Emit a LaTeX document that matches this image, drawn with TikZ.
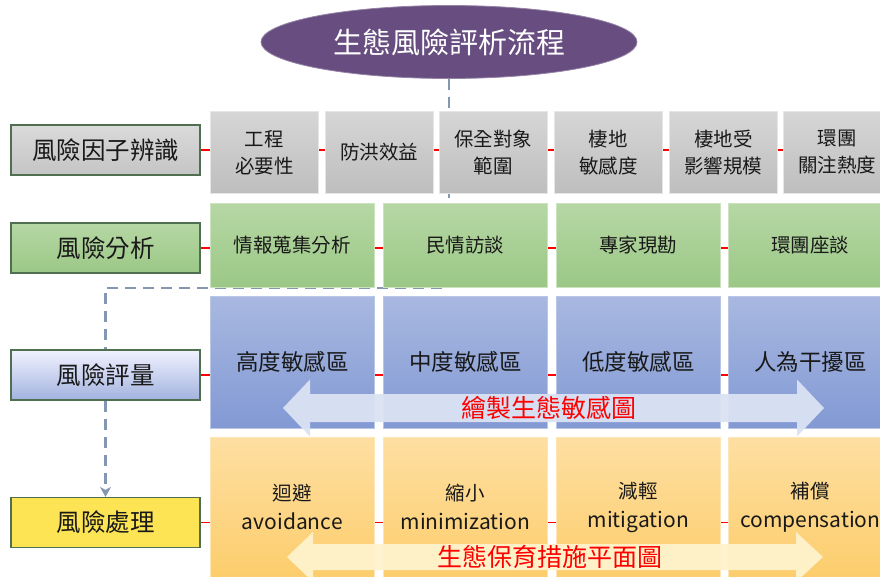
\documentclass[tikz,border=0pt]{standalone}
\usepackage{fontspec}
\setmainfont{Noto Sans CJK TC}
\usetikzlibrary{shapes.geometric,arrows.meta,backgrounds}

% colours of the rows
\definecolor{titlepurple}{RGB}{104,78,128}
\definecolor{labelborder}{RGB}{80,110,80}
\definecolor{dashblue}{RGB}{132,151,176}
\definecolor{textgray}{RGB}{25,25,25}
\definecolor{grayTop}{RGB}{214,214,214}
\definecolor{grayBot}{RGB}{190,190,190}
\definecolor{greenTop}{RGB}{182,215,164}
\definecolor{greenBot}{RGB}{155,200,134}
\definecolor{blueTop}{RGB}{168,184,224}
\definecolor{blueBot}{RGB}{130,153,212}
\definecolor{yellowTop}{RGB}{254,223,162}
\definecolor{yellowBot}{RGB}{252,205,108}
\definecolor{mapfill}{RGB}{218,227,243}
\definecolor{planfill}{RGB}{255,242,204}

\newcommand{\latinline}[1]{{\fontsize{21}{29}\selectfont #1}}

\tikzset{
  rowlabel/.style={draw=labelborder, line width=1.2pt, minimum width=189pt,
    minimum height=50pt, inner sep=0pt, text=textgray,
    font=\fontsize{24.5}{26}\selectfont},
  cell/.style={anchor=north west, inner sep=0pt, align=center, text=textgray,
    line width=0.6pt},
  redline/.style={draw=red, line width=1.6pt},
  flowdash/.style={draw=dashblue, line width=2.6pt, dash pattern=on 11pt off 7pt},
  arrownote/.style={text=red, font=\fontsize{25}{27}\selectfont}
}

\begin{document}
\begin{tikzpicture}[x=1pt,y=-1pt]
\useasboundingbox (0,0) rectangle (880,577);

% Drawing title ellipse
\node[ellipse, fill=titlepurple, draw=titlepurple!70!white, line width=0.8pt,
  minimum width=376pt, minimum height=73pt, inner sep=0pt, text=white,
  font=\fontsize{29}{30}\selectfont] (title) at (449,42) {生態風險評析流程};

% Drawing row labels
\node[rowlabel, top color=grayTop!90!white, bottom color=grayBot!90!white] (identify) at (105.5,150) {風險因子辨識};
\node[rowlabel, top color=greenTop, bottom color=greenBot] (analysis) at (105.5,248) {風險分析};
\node[rowlabel, top color=blue!5!white, bottom color=blueBot!75!white] (evaluate) at (105.5,375) {風險評量};
\node[rowlabel, fill=yellowBot!60!yellow!90!white] (treat) at (105.5,522.5) {風險處理};

% Row 1: factor identification
{\fontsize{19.5}{27}\selectfont
\node[cell, top color=grayTop, bottom color=grayBot, draw=grayTop!60!white,
  minimum width=108pt, minimum height=82pt] (f1) at (210,111) {工程\\必要性};
\node[cell, top color=grayTop, bottom color=grayBot, draw=grayTop!60!white,
  minimum width=108pt, minimum height=82pt] (f2) at (325,111) {防洪效益};
\node[cell, top color=grayTop, bottom color=grayBot, draw=grayTop!60!white,
  minimum width=108pt, minimum height=82pt] (f3) at (439,111) {保全對象\\範圍};
\node[cell, top color=grayTop, bottom color=grayBot, draw=grayTop!60!white,
  minimum width=108pt, minimum height=82pt] (f4) at (554,111) {棲地\\敏感度};
\node[cell, top color=grayTop, bottom color=grayBot, draw=grayTop!60!white,
  minimum width=108pt, minimum height=82pt] (f5) at (669,111) {棲地受\\影響規模};
\node[cell, top color=grayTop, bottom color=grayBot, draw=grayTop!60!white,
  minimum width=108pt, minimum height=82pt] (f6) at (783,111) {環團\\關注熱度};

% Row 2: analysis
\node[cell, top color=greenTop, bottom color=greenBot, draw=greenTop!70!white,
  minimum width=164pt, minimum height=84pt] (a1) at (210,203) {情報蒐集分析};
\node[cell, top color=greenTop, bottom color=greenBot, draw=greenTop!70!white,
  minimum width=164pt, minimum height=84pt] (a2) at (383,203) {民情訪談};
\node[cell, top color=greenTop, bottom color=greenBot, draw=greenTop!70!white,
  minimum width=164pt, minimum height=84pt] (a3) at (556,203) {專家現勘};
\node[cell, top color=greenTop, bottom color=greenBot, draw=greenTop!70!white,
  minimum width=164pt, minimum height=84pt] (a4) at (728,203) {環團座談};
}

% Row 3: evaluation
{\fontsize{22.5}{24}\selectfont
\node[cell, top color=blueTop, bottom color=blueBot, draw=blueTop!80!white,
  minimum width=164pt, minimum height=132pt] (e1) at (210,296) {高度敏感區};
\node[cell, top color=blueTop, bottom color=blueBot, draw=blueTop!80!white,
  minimum width=164pt, minimum height=132pt] (e2) at (383,296) {中度敏感區};
\node[cell, top color=blueTop, bottom color=blueBot, draw=blueTop!80!white,
  minimum width=164pt, minimum height=132pt] (e3) at (556,296) {低度敏感區};
\node[cell, top color=blueTop, bottom color=blueBot, draw=blueTop!80!white,
  minimum width=164pt, minimum height=132pt] (e4) at (728,296) {人為干擾區};
}

% Row 4: treatment
{\fontsize{19.5}{29}\selectfont
\node[cell, top color=yellowTop, bottom color=yellowBot, draw=yellowTop!80!white,
  minimum width=164pt, minimum height=140pt] (t1) at (210,437) {迴避\\\latinline{avoidance}};
\node[cell, top color=yellowTop, bottom color=yellowBot, draw=yellowTop!80!white,
  minimum width=164pt, minimum height=140pt] (t2) at (383,437) {縮小\\\latinline{minimization}};
\node[cell, top color=yellowTop, bottom color=yellowBot, draw=yellowTop!80!white,
  minimum width=164pt, minimum height=140pt] (t3) at (556,437) {減輕\\\latinline{mitigation}};
\node[cell, top color=yellowTop, bottom color=yellowBot, draw=yellowTop!80!white,
  minimum width=164pt, minimum height=140pt] (t4) at (728,437) {補償\\\latinline{compensation}};
}

% Connectors behind the boxes
\coordinate (end1) at (880,150);
\coordinate (end2) at (880,248);
\coordinate (end3) at (880,375);
\coordinate (end4) at (880,522.5);
\coordinate (bendA) at (449,288);
\coordinate (bendB) at (105.5,288);
\begin{pgfonlayer}{background}
  \draw[redline] (identify.east) -- (end1);
  \draw[redline] (analysis.east) -- (end2);
  \draw[redline] (evaluate.east) -- (end3);
  \draw[redline] (treat.east) -- (end4);
  \draw[flowdash, -{Stealth[length=10pt,width=11pt,inset=3pt]}]
    (title.south) -- (bendA) -- (bendB) -- (treat.north);
\end{pgfonlayer}

% Drawing sensitivity map arrow
\fill[mapfill, opacity=0.95] (283,408) -- (310,379.5) -- (310,394) -- (797,394) -- (797,379.5)
  -- (824,408) -- (797,436.5) -- (797,422) -- (310,422) -- (310,436.5) -- cycle;
\node[arrownote] (mapnote) at (549,408) {繪製生態敏感圖};

% Drawing conservation plan arrow
\fill[planfill, opacity=0.95] (287,557) -- (313,532) -- (313,544) -- (796,544) -- (796,532)
  -- (823,557) -- (796,582) -- (796,570) -- (313,570) -- (313,582) -- cycle;
\node[arrownote] (plannote) at (550,557) {生態保育措施平面圖};
\end{tikzpicture}
\end{document}
